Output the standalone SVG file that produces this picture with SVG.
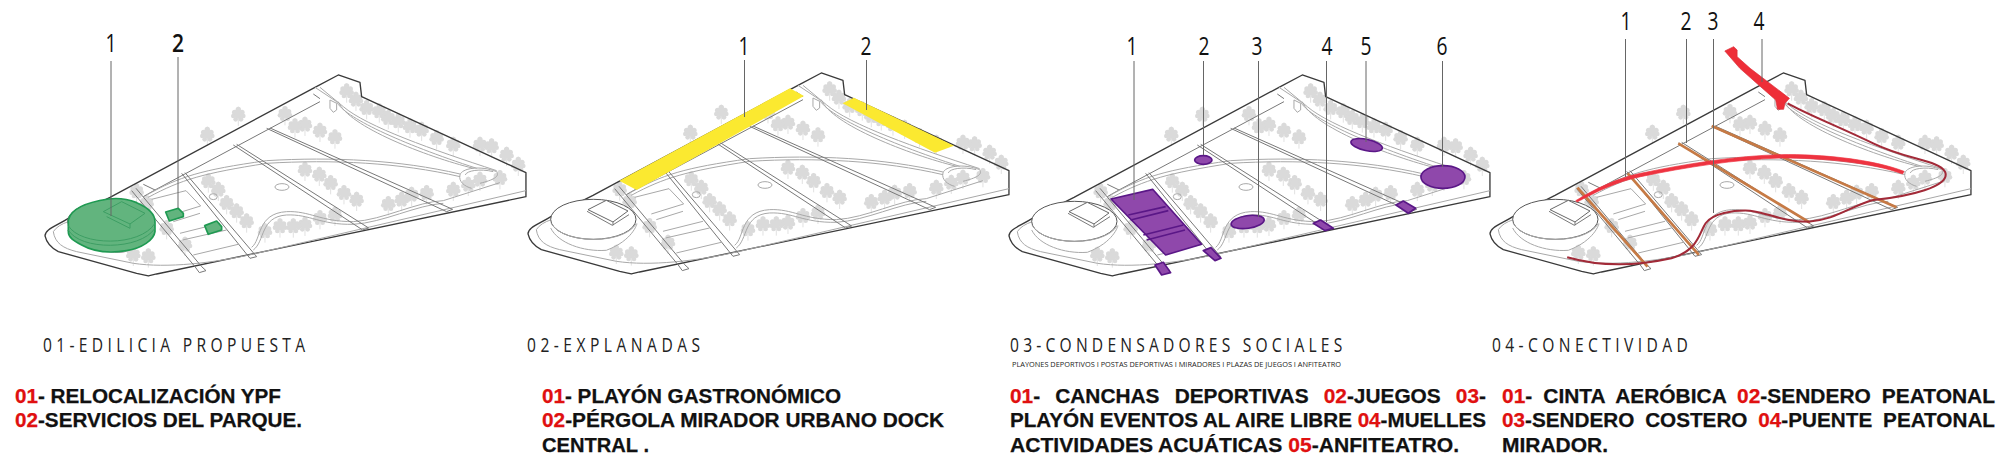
<svg xmlns="http://www.w3.org/2000/svg" xmlns:xlink="http://www.w3.org/1999/xlink" width="2016" height="468" viewBox="0 0 2016 468">
<style>
.o{fill:none;stroke:#3a3a3a;stroke-width:4;stroke-linejoin:round}
.g{fill:none;stroke:#a8a8a8;stroke-width:3}
.d{fill:none;stroke:#777;stroke-width:3}
.ld{stroke:#666;stroke-width:1;fill:none}
.n{font-family:"Open Sans","DejaVu Sans",sans-serif;font-size:26px;fill:#111;text-anchor:middle}
.t{font-family:"Open Sans","DejaVu Sans",sans-serif;font-size:20px;fill:#222}
.b{font-family:"Liberation Sans",Arial,sans-serif;font-size:20px;font-weight:bold;fill:#111;stroke:#111;stroke-width:.25}
.r{fill:#e01010;stroke:#e01010}
.gr{fill:#62b47e;stroke:#1f9a52;stroke-width:5;stroke-linejoin:round}
.pu{fill:#8f48ab;stroke:#5a1787;stroke-width:5;stroke-linejoin:round}
.ye{fill:#fbe930;stroke:none}
.or{fill:none;stroke:#c67a45;stroke-width:8}
</style>
<defs>
<g id="t" fill="#dadada">
<path d="M0,-30V28" stroke="#d2d2d2" stroke-width="2"/>
<circle cx="0" cy="-22" r="8"/><circle cx="-11" cy="-13" r="8"/><circle cx="11" cy="-13" r="8"/><circle cx="-15" cy="-2" r="7"/><circle cx="15" cy="-2" r="7"/><circle cx="-8" cy="8" r="7"/><circle cx="8" cy="8" r="7"/><circle cx="0" cy="-6" r="12"/>
</g>
<g id="plan">
<use xlink:href="#t" x="715" y="350"/><use xlink:href="#t" x="622" y="410"/><use xlink:href="#t" x="855" y="348"/><use xlink:href="#t" x="885" y="385"/><use xlink:href="#t" x="915" y="380"/><use xlink:href="#t" x="960" y="398"/><use xlink:href="#t" x="1005" y="418"/><use xlink:href="#t" x="1040" y="280"/><use xlink:href="#t" x="1068" y="305"/><use xlink:href="#t" x="1100" y="330"/><use xlink:href="#t" x="1138" y="340"/><use xlink:href="#t" x="1165" y="360"/><use xlink:href="#t" x="1195" y="370"/><use xlink:href="#t" x="1230" y="385"/><use xlink:href="#t" x="1265" y="395"/><use xlink:href="#t" x="1310" y="420"/><use xlink:href="#t" x="1360" y="440"/><use xlink:href="#t" x="1440" y="440"/><use xlink:href="#t" x="1475" y="445"/><use xlink:href="#t" x="1520" y="470"/><use xlink:href="#t" x="1555" y="500"/><use xlink:href="#t" x="915" y="515"/><use xlink:href="#t" x="958" y="530"/><use xlink:href="#t" x="992" y="555"/><use xlink:href="#t" x="1032" y="585"/><use xlink:href="#t" x="1070" y="605"/><use xlink:href="#t" x="1165" y="618"/><use xlink:href="#t" x="1205" y="605"/><use xlink:href="#t" x="1235" y="590"/><use xlink:href="#t" x="1280" y="585"/><use xlink:href="#t" x="1360" y="575"/><use xlink:href="#t" x="1405" y="560"/><use xlink:href="#t" x="1440" y="545"/><use xlink:href="#t" x="1500" y="540"/><use xlink:href="#t" x="625" y="550"/><use xlink:href="#t" x="655" y="575"/><use xlink:href="#t" x="680" y="615"/><use xlink:href="#t" x="710" y="640"/><use xlink:href="#t" x="740" y="670"/><use xlink:href="#t" x="795" y="700"/><use xlink:href="#t" x="840" y="685"/><use xlink:href="#t" x="880" y="685"/><use xlink:href="#t" x="915" y="680"/><use xlink:href="#t" x="960" y="660"/><use xlink:href="#t" x="1005" y="650"/><use xlink:href="#t" x="410" y="580"/><use xlink:href="#t" x="440" y="615"/><use xlink:href="#t" x="500" y="690"/><use xlink:href="#t" x="555" y="740"/><use xlink:href="#t" x="400" y="770"/><use xlink:href="#t" x="445" y="775"/>
<path class="o" d="M135,708C135,688 165,680 205,655L330,592L945,262L1015,225L1080,247L1085,290L1578,518V590L470,822L445,828L410,820L175,755C155,745 140,730 135,708Z"/>
<path class="g" d="M160,695C170,680 185,672 205,665M160,695C165,730 190,745 230,755L400,790C500,805 640,790 770,760L1578,572"/>
<path class="d" d="M465,570L960,305M430,553L465,570L430,590M940,282L960,296"/>
<path class="g" d="M440,585C540,530 600,510 800,482C1000,470 1200,480 1380,522M445,592C545,538 610,520 800,490C1000,478 1200,488 1380,530"/>
<path class="g" d="M1380,525C1385,505 1440,495 1490,515C1500,530 1480,540 1440,550M1380,525C1375,545 1395,560 1415,565M1396,525C1400,512 1440,505 1480,515"/>
<path class="g" d="M945,262L1010,305C1030,350 1200,430 1430,505M960,262L1030,320C1100,380 1300,450 1490,512M1015,305C1045,380 1280,470 1420,505"/>
<path class="g" d="M990,300L1010,310V330L1000,337L990,325Z"/>
<path class="g" d="M755,742C785,720 770,640 860,635C930,632 960,665 1060,665C1150,660 1250,605 1330,602L1500,548M760,750C795,725 780,650 860,645C930,642 960,675 1060,673C1150,668 1250,615 1330,610"/>
<path class="d" d="M545,520L750,775L770,770L555,518M395,572L585,800L598,818L618,812L605,800L408,565"/>
<path class="d" d="M700,435L1088,690L1106,684L710,433M800,385L1340,635L1358,628L810,384"/>
<path class="g" d="M455,598L558,572L602,618L505,648M520,665L600,640M540,700L660,670M548,720L680,690M580,765L715,733"/>
<ellipse class="g" cx="846" cy="561" rx="21" ry="10"/><ellipse class="g" cx="640" cy="590" rx="12" ry="9"/>
<ellipse cx="331" cy="664" rx="128" ry="60" fill="#fff" stroke="#555" stroke-width="3"/>
<path class="g" d="M205,677C240,738 420,742 460,677M203,690C225,735 300,762 370,757C450,727 462,677 462,677"/>
<path d="M315,635L370,607L435,639L390,672Z" fill="#fff" stroke="#666" stroke-width="3"/>
<path class="d" d="M312,640L388,682L438,650M390,672V682"/>
</g>
</defs>
<rect width="2016" height="468" fill="#fff"/>
<g id="panel-1">
<use xlink:href="#plan" transform="scale(.3333)"/>
<g transform="scale(.3333)">
<path class="gr" d="M205,660C212,630 250,608 325,597C355,593 385,598 410,608C445,623 465,640 465,665V695C462,720 425,745 380,752C330,760 280,755 245,735C220,722 205,712 205,695Z"/>
<path d="M205,677C240,738 420,742 465,670M205,690C240,752 420,752 465,685" fill="none" stroke="#3d9e63" stroke-width="3"/>
<path d="M310,635L365,605L435,640L390,672ZM390,672V685L320,650" fill="none" stroke="#3d9e63" stroke-width="3"/>
<path class="gr" stroke-width="3" d="M497,636L535,625L550,640V650L508,663Z"/>
<path class="gr" stroke-width="3" d="M614,677L650,663L665,680V690L625,703Z"/>
</g>
<text class="n" x="111" y="52" textLength="11" lengthAdjust="spacingAndGlyphs">1</text><text class="n" x="178" y="52" textLength="12" lengthAdjust="spacingAndGlyphs" style="font-weight:600">2</text>
<text class="t" transform="translate(43,352) scale(.78,1)" textLength="336">01-EDILICIA PROPUESTA</text>
<text class="b" x="15" y="403" textLength="266" lengthAdjust="spacingAndGlyphs"><tspan class="r">01</tspan>- RELOCALIZACIÓN YPF</text>
<text class="b" x="15" y="427" textLength="287" lengthAdjust="spacingAndGlyphs"><tspan class="r">02</tspan>-SERVICIOS DEL PARQUE.</text>
</g>
<g id="panel-2">
<use xlink:href="#plan" transform="translate(483,-2) scale(.3333)"/>
<g transform="translate(500,0) scale(.3333)">
<path class="ye" d="M358,542L870,265L912,288L410,570Z"/>
<path class="ye" d="M1028,310L1062,293L1362,437L1305,458Z"/>
</g>
<text class="n" x="744" y="55" textLength="11" lengthAdjust="spacingAndGlyphs">1</text><text class="n" x="866" y="55" textLength="11" lengthAdjust="spacingAndGlyphs">2</text>
<text class="t" transform="translate(527,352) scale(.78,1)" textLength="222">02-EXPLANADAS</text>
<text class="b" x="542" y="403" textLength="299" lengthAdjust="spacingAndGlyphs"><tspan class="r">01</tspan>- PLAYÓN GASTRONÓMICO</text>
<text class="b" x="542" y="427" textLength="402" lengthAdjust="spacingAndGlyphs"><tspan class="r">02</tspan>-PÉRGOLA MIRADOR URBANO DOCK</text>
<text class="b" x="542" y="452" textLength="107" lengthAdjust="spacingAndGlyphs">CENTRAL .</text>
</g>
<g id="panel-3">
<use xlink:href="#plan" transform="translate(964,0) scale(.3333)"/>
<g transform="translate(1000,0) scale(.3333)">
<path class="pu" d="M333,597L458,568L605,733L497,765Z"/>
<path d="M385,645L497,620M392,660L505,632M430,705L550,675M440,720L555,690" fill="none" stroke="#5a1787" stroke-width="5"/>
<ellipse class="pu" cx="610" cy="480" rx="26" ry="13"/>
<ellipse class="pu" cx="743" cy="666" rx="50" ry="19" transform="rotate(-8 743 666)"/>
<ellipse class="pu" cx="1100" cy="435" rx="48" ry="17" transform="rotate(12 1100 435)"/>
<ellipse class="pu" cx="1329" cy="531" rx="66" ry="34"/>
<path class="pu" d="M465,795L490,787L512,818L485,825Z"/>
<path class="pu" d="M610,752L633,743L663,775L645,782Z"/>
<path class="pu" d="M940,670L962,660L1000,685L975,692Z"/>
<path class="pu" d="M1188,615L1210,603L1247,625L1225,640Z"/>
</g>
<text class="n" x="1132" y="55" textLength="11" lengthAdjust="spacingAndGlyphs">1</text><text class="n" x="1204" y="55" textLength="11" lengthAdjust="spacingAndGlyphs">2</text><text class="n" x="1257" y="55" textLength="11" lengthAdjust="spacingAndGlyphs">3</text><text class="n" x="1327" y="55" textLength="11" lengthAdjust="spacingAndGlyphs">4</text><text class="n" x="1366" y="55" textLength="11" lengthAdjust="spacingAndGlyphs">5</text><text class="n" x="1442" y="55" textLength="11" lengthAdjust="spacingAndGlyphs">6</text>
<text class="t" transform="translate(1010,352) scale(.78,1)" textLength="426">03-CONDENSADORES SOCIALES</text>
<text class="t" x="1012" y="367" textLength="329" lengthAdjust="spacingAndGlyphs" style="font-size:6.5px">PLAYONES DEPORTIVOS I POSTAS DEPORTIVAS I MIRADORES I PLAZAS DE JUEGOS I ANFITEATRO</text>
<text class="b" x="1010" y="403" textLength="476" lengthAdjust="spacingAndGlyphs" style="word-spacing:9px"><tspan class="r">01</tspan>- CANCHAS DEPORTIVAS <tspan class="r">02</tspan>-JUEGOS <tspan class="r">03</tspan>-</text>
<text class="b" x="1010" y="427" textLength="476" lengthAdjust="spacingAndGlyphs">PLAYÓN EVENTOS AL AIRE LIBRE <tspan class="r">04</tspan>-MUELLES</text>
<text class="b" x="1010" y="452" textLength="449" lengthAdjust="spacingAndGlyphs">ACTIVIDADES ACUÁTICAS <tspan class="r">05</tspan>-ANFITEATRO.</text>
</g>
<g id="panel-4">
<use xlink:href="#plan" transform="translate(1445,-2) scale(.3333)"/>
<g transform="translate(1480,0) scale(.3419,.3333)">
<path class="or" d="M285,563L490,800M432,520L640,765M580,430L965,668M678,378L1218,622"/>
<path d="M280,602C340,565 400,535 470,520C600,492 750,467 880,464C1000,462 1150,478 1240,514L1236,522C1150,488 1000,474 880,474C750,478 600,502 470,530C400,545 340,575 284,606Z" fill="#ee3340" stroke="#ee3340" stroke-width="2"/>
<path d="M255,772C350,800 450,800 560,775C640,750 640,700 660,670C680,640 740,630 790,632C850,640 880,665 960,665C1040,660 1080,620 1150,600C1250,590 1380,560 1360,515C1340,480 1250,480 1150,430C1050,380 950,340 900,310" fill="none" stroke="#a22a38" stroke-width="6"/>
<path d="M716,153L742,140L752,150V170L790,205L905,295L892,310L888,328H870L865,300L815,255L760,205Z" fill="#ee2e38" stroke="#d92a34" stroke-width="2"/>
</g>
<text class="n" x="1626" y="30" textLength="11" lengthAdjust="spacingAndGlyphs">1</text><text class="n" x="1686" y="30" textLength="11" lengthAdjust="spacingAndGlyphs">2</text><text class="n" x="1713" y="30" textLength="11" lengthAdjust="spacingAndGlyphs">3</text><text class="n" x="1759" y="30" textLength="11" lengthAdjust="spacingAndGlyphs">4</text>
<text class="t" transform="translate(1492,352) scale(.78,1)" textLength="251">04-CONECTIVIDAD</text>
<text class="b" x="1502" y="403" textLength="493" lengthAdjust="spacingAndGlyphs" style="word-spacing:5px"><tspan class="r">01</tspan>- CINTA AERÓBICA <tspan class="r">02</tspan>-SENDERO PEATONAL</text>
<text class="b" x="1502" y="427" textLength="493" lengthAdjust="spacingAndGlyphs" style="word-spacing:5px"><tspan class="r">03</tspan>-SENDERO COSTERO <tspan class="r">04</tspan>-PUENTE PEATONAL</text>
<text class="b" x="1502" y="452" textLength="106" lengthAdjust="spacingAndGlyphs">MIRADOR.</text>
</g>
<g id="connectors" class="ld">
<path d="M111,61V216M178,57V208"/>
<path d="M744.500,60V117M866.500,60V110"/>
<path d="M1134,61V200M1203.500,61V155M1258.500,61V217M1326.500,61V222M1366,61V142M1442.500,61V167"/>
<path d="M1625.500,39V177M1686.500,39V143M1713.500,39V213M1762,39V82"/>
</g>
</svg>
